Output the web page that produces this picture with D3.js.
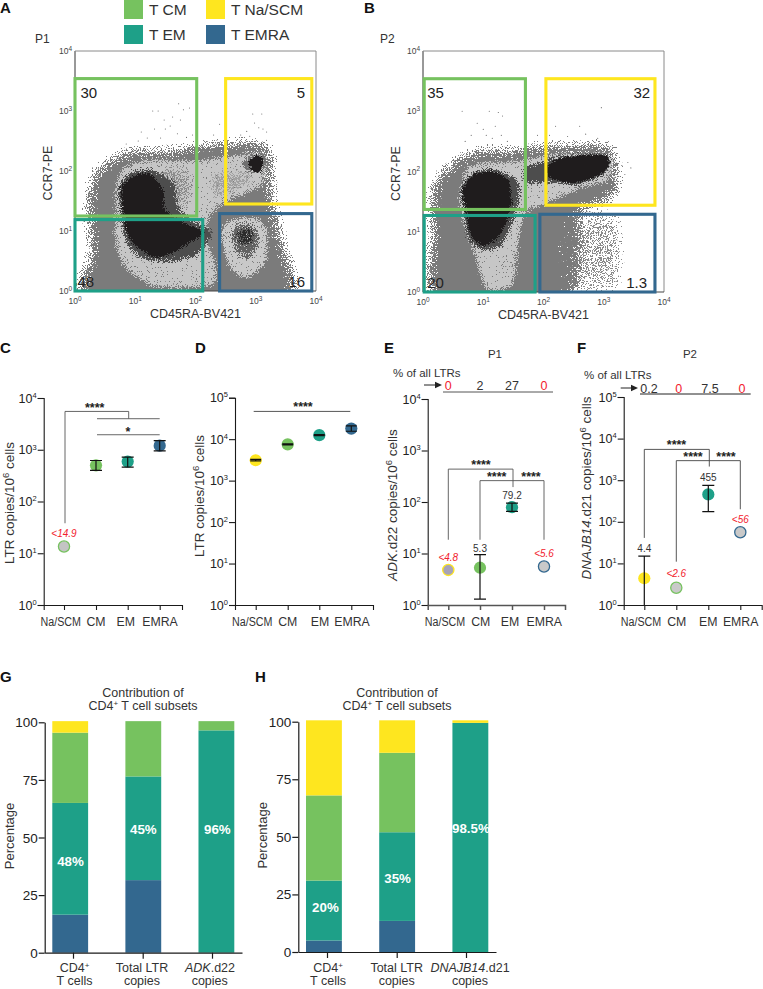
<!DOCTYPE html>
<html><head><meta charset="utf-8">
<script src="https://cdn.jsdelivr.net/npm/d3@7/dist/d3.min.js"></script>
<style>
html,body{margin:0;padding:0;background:#fff}
text{font-family:"Liberation Sans",Arial,sans-serif;fill:#2b2b2b}
</style></head><body>
<svg id="fig" width="763" height="989"></svg>
<script>
// ---------- colours ----------
const CM="#76c25f", EM="#1ea088", NA="#fee61f", RA="#33688f", RED="#f2212d";
// ---------- legend ----------
const legendNames=["T CM","T EM","T Na/SCM","T EMRA"];
const legendColors=[CM,EM,NA,RA];
// ---------- flow plots (log10 units) ----------
const gatesA=[[0,2.02,1.25,3.54,CM],[2.5,3.93,1.45,3.54,NA],[0,2.12,0,1.19,EM],[2.4,3.93,0,1.29,RA]];
const gatesB=[[0.02,1.7,1.37,3.54,CM],[2.04,3.85,1.44,3.54,NA],[0.02,1.86,0,1.27,EM],[1.94,3.85,0,1.29,RA]];
const gateNumsA=[["30",0.09,3.22,"start"],["5",3.82,3.22,"end"],["48",0.04,0.07,"start"],["16",3.82,0.07,"end"]];
const gateNumsB=[["35",0.07,3.22,"start"],["32",3.77,3.22,"end"],["20",0.07,0.07,"start"],["1.3",3.72,0.07,"end"]];
const outerA=[[0.2,-0.2],[0.26,0.63],[0.2,1.3],[0.24,1.8],[0.45,2.12],[0.96,2.36],[1.52,2.34],[2.18,2.46],[3.18,2.46],[3.28,2.18],[3.28,1.52],[3.45,0.85],[3.5,-0.2]];
const lightA=[[1.38,0.04],[1.05,0.2],[0.8,0.4],[0.65,0.8],[0.64,1.24],[0.66,1.74],[0.8,2.08],[1.18,2.2],[2.07,2.2],[3.07,2.33],[3.18,2.13],[3.12,1.74],[2.62,1.52],[2.29,1.3],[2.2,0.96],[2.35,0.41],[2.29,0.08]];
const midA=[[2.2,2.05],[3.0,2.05],[2.95,1.7],[2.5,1.5],[2.2,1.5]];
const mid2A=[[1.3,2.05],[1.95,2.1],[2.0,1.5],[1.8,1.25],[1.5,1.3]];
const haloA=[[0.72,1.74],[0.94,2.0],[1.3,2.03],[1.65,1.8],[1.72,1.41],[2.0,1.15],[2.3,0.98],[2.01,0.58],[1.52,0.48],[1.13,0.52],[0.85,0.78],[0.74,1.3]];
const coreA=[[0.77,1.74],[1.0,1.93],[1.24,1.96],[1.47,1.68],[1.49,1.35],[1.83,1.13],[2.15,0.98],[1.9,0.8],[1.66,0.66],[1.33,0.55],[0.97,0.79],[0.83,1.07],[0.8,1.35]];
const raLightA=[[2.46,0.63],[2.43,1.07],[2.62,1.21],[3.01,1.24],[3.2,1.02],[3.18,0.47],[2.84,0.19],[2.57,0.35]];
const raMidA=[[2.55,0.95],[2.7,1.15],[2.95,1.13],[3.1,0.95],[3.0,0.6],[2.82,0.5],[2.65,0.65]];
const raCoreA=[[2.66,0.98],[2.82,1.1],[3.0,1.0],[2.95,0.8],[2.8,0.68],[2.68,0.8]];
const naMidA=[[2.73,2.13],[2.95,2.28],[3.18,2.27],[3.15,2.02],[2.9,1.96]];
const naCoreA=[[2.88,2.14],[3.0,2.26],[3.12,2.2],[3.08,2.0],[2.98,1.98]];
const outerB=[[0.2,-0.2],[0.15,0.98],[0.12,1.53],[0.2,1.84],[0.48,2.16],[0.89,2.36],[1.55,2.36],[1.94,2.44],[3.1,2.44],[3.22,2.14],[3.2,1.58],[2.6,1.31],[2.38,0.64],[2.33,-0.2]];
const sparseB=[[2.25,1.35],[2.9,1.5],[3.35,1.45],[3.45,0.8],[3.35,-0.1],[2.2,-0.1]];
const sparseLeftB=[[2.1,1.35],[2.6,1.35],[2.7,0.7],[2.55,-0.1],[2.1,-0.1]];
const lightB=[[0.69,2.03],[0.83,2.14],[1.55,2.19],[2.1,2.3],[3.1,2.3],[3.16,2.08],[3.05,1.81],[2.66,1.72],[2.05,1.45],[1.72,1.31],[1.61,0.86],[1.5,0.1],[1.05,0.02],[0.83,0.64],[0.69,1.03],[0.58,1.53]];
const haloB=[[0.62,1.7],[0.82,2.0],[1.2,2.05],[1.6,1.85],[1.6,1.5],[1.5,1.15],[1.3,0.75],[1.0,0.68],[0.74,0.85],[0.67,1.3]];
const coreB=[[0.66,1.69],[0.83,1.95],[1.16,2.0],[1.42,1.86],[1.47,1.53],[1.4,1.2],[1.24,0.9],[1.0,0.76],[0.8,0.92],[0.72,1.31]];
const naHaloB=[[1.66,2.08],[1.9,2.15],[2.22,2.26],[3.02,2.3],[3.12,2.11],[2.95,1.9],[2.55,1.76],[2.1,1.8],[1.7,1.8]];
const naCoreB=[[2.03,2.05],[2.22,2.2],[2.66,2.27],[3.04,2.26],[3.09,2.11],[2.94,1.95],[2.55,1.81],[2.14,1.87]];
const dotsA=[[1.72,3.12],[1.29,3.0],[1.38,3.0],[1.8,3.02],[1.9,3.05],[2.02,3.1],[1.48,2.85],[1.62,2.9],[1.75,2.85],[1.32,2.7],[1.5,2.7],[1.1,2.65],[1.58,2.75],[1.95,2.6],[1.7,2.62],[1.2,2.55],[1.85,2.56],[2.95,2.95],[3.1,2.95],[2.98,2.8],[3.05,2.72],[3.12,2.7],[2.85,2.66],[3.18,2.65],[2.75,2.6],[2.4,2.78],[2.3,2.6],[2.5,2.55],[2.9,2.58],[1.05,2.5],[1.42,2.55],[0.85,2.45]];
const dotsB=[[0.65,3.0],[1.1,3.0],[1.25,2.98],[1.32,2.92],[0.9,2.8],[1.0,2.7],[1.2,2.75],[1.05,2.6],[0.8,2.6],[1.15,2.55],[1.3,2.6],[0.7,2.5],[1.4,2.5],[2.96,3.06],[2.2,2.75],[2.6,2.75],[2.1,2.6],[2.7,2.62],[1.9,2.6],[2.4,2.58],[2.9,2.55],[3.3,2.1],[3.4,2.15],[3.45,2.06],[3.35,1.95]];
// ---------- dot plots ----------
const subsets=["Na/SCM","CM","EM","EMRA"];
const pointColors=[NA,CM,EM,RA];
const valuesC=[13.5,500,590,1200], errLoC=[null,400,460,950], errHiC=[null,620,720,1500];
const valuesD=[3100,7500,12500,18000], errLoD=[3000,7300,12200,15500], errHiD=[3250,7700,12800,21000];
const valuesE=[4.8,5.3,79.2,5.6], errLoE=[null,1.3,66,null], errHiE=[null,9.5,95,null];
const valuesF=[4.4,2.6,455,56], errLoF=[1,null,175,null], errHiF=[15,null,750,null];
const pctE=["0","2","27","0"], pctF=["0.2","0","7.5","0"];
const labelsE=["<4.8","5.3","79.2","<5.6"], labelsF=["4.4","<2.6","455","<56"];
// ---------- stacked bars: EMRA, EM, CM, Na/SCM ----------
const stackKeys=[RA,EM,CM,NA];
const stackG=[[16.5,48.5,30.5,5],[31.5,45,24,0],[0,96.5,4,0]];
const stackH=[[5,26,37,32.6],[13.5,38.5,34.5,14.1],[0,99.5,0,1.1]];
const pctLabelsG=[["48%",39.5],["45%",53.5],["96%",53.5]];
const pctLabelsH=[["20%",19.5],["35%",32],["98.5%",53.5]];

const svg=d3.select("#fig");
const defs=svg.append("defs");
let filterCount=0;
// grain texture for a density layer: blurred polygon + pixel noise, thresholded
function dither(color,blur,bias){
  const id="d"+(++filterCount);
  const f=defs.append("filter").attr("id",id).attr("x","-25%").attr("y","-25%").attr("width","150%").attr("height","150%").attr("color-interpolation-filters","sRGB");
  f.append("feGaussianBlur").attr("in","SourceGraphic").attr("stdDeviation",blur).attr("result","b");
  f.append("feTurbulence").attr("type","fractalNoise").attr("baseFrequency",1.2).attr("numOctaves",1).attr("seed",filterCount*7).attr("result","n0");
  const ct=f.append("feComponentTransfer").attr("in","n0").attr("result","n");
  ct.append("feFuncA").attr("type","linear").attr("slope",2.6).attr("intercept",-0.8);
  f.append("feComposite").attr("in","n").attr("in2","b").attr("operator","arithmetic").attr("k1",0).attr("k2",1).attr("k3",1.5).attr("k4",bias).attr("result","s");
  f.append("feColorMatrix").attr("in","s").attr("type","matrix").attr("values","0 0 0 0 0  0 0 0 0 0  0 0 0 0 0  0 0 0 30 0").attr("result","t");
  f.append("feFlood").attr("flood-color",color).attr("result","c");
  f.append("feComposite").attr("in","c").attr("in2","t").attr("operator","in");
  return `url(#${id})`;
}

function txt(x,y,s,opt={}){
  const t=svg.append("text").attr("x",x).attr("y",y).text(s).attr("font-size",opt.size||13)
    .attr("text-anchor",opt.anchor||"start");
  if(opt.fill)t.style("fill",opt.fill);
  if(opt.weight)t.attr("font-weight",opt.weight);
  if(opt.italic)t.attr("font-style","italic");
  return t;
}
// panel letters
[["A",0,13],["B",364,13],["C",0,353],["D",195,353],["E",384,353],["F",577,353],["G",0,682],["H",255,682]]
  .forEach(d=>txt(d[1],d[2],d[0],{size:15,weight:"bold",fill:"#111"}));
// legend
legendNames.forEach((n,i)=>{
  const col=i<2?124:206, row=i%2;
  svg.append("rect").attr("x",col).attr("y",row?25:0).attr("width",19).attr("height",19).attr("fill",legendColors[i]);
  txt(col+25,row?39.5:15,n,{size:15.5,fill:"#333"});
});

function sup(sel,exp,size,supSize){
  sel.text("").append("tspan").text("10").attr("font-size",size);
  sel.append("tspan").text(exp).attr("font-size",supSize).attr("dy",-size*0.38);
}
function flow(cfg,idx){
  const x=d3.scaleLinear().domain([0,4]).range(cfg.xr), y=d3.scaleLinear().domain([0,4]).range(cfg.yr);
  const line=d3.line().x(d=>x(d[0])).y(d=>y(d[1])).curve(d3.curveCardinalClosed.tension(0.3));
  defs.append("clipPath").attr("id","cp"+idx).append("rect").attr("x",cfg.xr[0]).attr("y",cfg.yr[1]).attr("width",cfg.xr[1]-cfg.xr[0]).attr("height",cfg.yr[0]-cfg.yr[1]);
  const outer=svg.append("g").attr("clip-path",`url(#cp${idx})`);
  cfg.layers.forEach(l=>outer.append("path").attr("d",line(l[0])).attr("fill","#000").attr("filter",dither(l[1],l[2],l[3])));
  outer.selectAll("circle.dot").data(cfg.dots).join("circle").attr("cx",d=>x(d[0])).attr("cy",d=>y(d[1])).attr("r",0.55).attr("fill","#666");
  // frame
  svg.append("path").attr("d",`M${cfg.xr[0]},${cfg.yr[0]}V${cfg.yr[1]}`).attr("stroke","#333").attr("fill","none");
  svg.append("path").attr("d",`M${cfg.xr[0]},${cfg.yr[1]}H${cfg.xr[1]}V${cfg.yr[0]}`).attr("stroke","#8a8a8a").attr("fill","none");
  svg.append("path").attr("d",`M${cfg.xr[0]},${cfg.yr[0]}H${cfg.xr[1]}`).attr("stroke","#444").attr("fill","none");
  [0,1,2,3,4].forEach(e=>{
    sup(txt(x(e),cfg.yr[0]+13,"",{anchor:"middle",fill:"#444"}),e,8.5,6.5);
    sup(txt(cfg.xr[0]-3,y(e)+3,"",{anchor:"end",fill:"#444"}),e,8.5,6.5);
  });
  cfg.gates.forEach(d=>{
    svg.append("rect").attr("x",x(d[0])).attr("width",x(d[1])-x(d[0])).attr("y",y(d[3])).attr("height",y(d[2])-y(d[3]))
      .attr("fill","none").attr("stroke",d[4]).attr("stroke-width",3.1);
  });
  cfg.nums.forEach(d=>txt(x(d[1]),y(d[2]),d[0],{size:15,anchor:d[3],fill:"#222"}));
  txt((cfg.xr[0]+cfg.xr[1])/2,cfg.yr[0]+27,"CD45RA-BV421",{size:12.5,anchor:"middle",fill:"#333"});
  txt(0,0,"CCR7-PE",{size:12.5,anchor:"middle",fill:"#333"}).attr("transform",`translate(${cfg.xr[0]-23},${(y(2)+2)}) rotate(-90)`);
  txt(cfg.pl[0],cfg.pl[1],cfg.pl[2],{size:12,fill:"#333"});
}
flow({xr:[75,316],yr:[291,51],gates:gatesA,nums:gateNumsA,dots:dotsA,pl:[35,43,"P1"],
  layers:[[outerA,"#7b7b7b",8,-1.35],[lightA,"#c6c6c6",3.5,-1.5],[midA,"#a0a0a0",7,-1.9],[mid2A,"#8c8c8c",7,-1.9],[haloA,"#4d4d4d",3,-1.4],[coreA,"#1f1c1d",2,-1.25],
  [raLightA,"#c9c9c9",3.5,-1.5],[raMidA,"#626262",5,-1.55],[raCoreA,"#2c2c2c",5,-1.65],[naMidA,"#6f6f6f",3,-1.45],[naCoreA,"#1f1c1d",1.6,-1.25]]},0);
flow({xr:[423,664],yr:[292,51],gates:gatesB,nums:gateNumsB,dots:dotsB,pl:[380,43,"P2"],
  layers:[[sparseB,"#8a8a8a",12,-2.05],[sparseLeftB,"#7b7b7b",9,-1.55],[outerB,"#7b7b7b",8,-1.35],[lightB,"#c6c6c6",3.5,-1.5],[haloB,"#4d4d4d",3,-1.4],[coreB,"#1f1c1d",2,-1.25],[naHaloB,"#4d4d4d",3,-1.4],[naCoreB,"#1f1c1d",1.6,-1.25]]},1);

// dot plots
function dotPlot(c){
  const y=d3.scaleLog().domain([1,c.max]).range([605,c.top]);
  const xs=d3.scaleOrdinal().domain(d3.range(4)).range(c.ticks);
  const ax=c.ax, end=c.end;
  const gy=svg.append("g").attr("transform",`translate(${ax},0)`).call(d3.axisLeft(y).tickValues(d3.range(0,Math.log10(c.max)+1).map(e=>10**e)).tickSize(6).tickFormat(""));
  gy.selectAll("path,line").attr("stroke","#1a1a1a").attr("stroke-width",1.1);
  d3.range(0,Math.log10(c.max)+1).forEach(e=>sup(txt(ax-7,y(10**e)+4.5,"",{anchor:"end",fill:"#222"}),e,12.5,7.5));
  const gx=svg.append("g").attr("transform","translate(0,605)").call(d3.axisBottom(d3.scaleLinear().domain([ax,end]).range([ax,end])).tickValues(c.ticks).tickSize(5).tickFormat(""));
  gx.selectAll("path,line").attr("stroke",c.xAxisColor||"#1a1a1a").attr("stroke-width",c.xAxisColor?1.5:1.1);
  subsets.forEach((s,i)=>{
    const t=txt(c.labelX[i],626,s,{size:12.3,anchor:"middle",fill:"#333"});
    if(i===0) t.attr("textLength",40.5).attr("lengthAdjust","spacingAndGlyphs");
  });
  const lab=txt(0,0,"",{size:13.5,anchor:"middle",fill:"#333"}).attr("transform",`translate(${c.labX},${c.labY}) rotate(-90)`);
  if(c.gene) lab.append("tspan").text(c.gene).attr("font-style","italic");
  lab.append("tspan").text(c.geneRest||"LTR copies/10");
  lab.append("tspan").text("6").attr("font-size",9.5).attr("dy",-5);
  lab.append("tspan").text(" cells").attr("dy",5);
  c.v.forEach((v,i)=>{
    const cx=xs(i);
    const st=c.style?c.style[i]:null;
    svg.append("circle").attr("cx",cx).attr("cy",y(v)).attr("r",st?5.6:6.1)
      .attr("fill",st?st[0]:pointColors[i]).attr("stroke",st?st[1]:"none").attr("stroke-width",st?1.3:0);
    if(c.lo[i]!=null){
      const top=y(c.hi[i]), bot=Math.min(y(c.lo[i]),605);
      const w=c.capW||6;
      svg.append("path").attr("d",`M${cx-w},${top}H${cx+w}M${cx},${top}V${bot}`+(c.lo[i]>1?`M${cx-w},${bot}H${cx+w}`:"")).attr("stroke","#111").attr("stroke-width",1.2).attr("fill","none");
    }
    if(c.labels&&c.labels[i]) {
      const isRed=c.labels[i].startsWith("<");
      txt(cx,c.labelY[i],c.labels[i],{size:10,anchor:"middle",italic:isRed,fill:isRed?RED:"#333"});
    }
  });
  (c.br||[]).forEach(b=>{
    svg.append("path").attr("d",b.map((p,j)=>(j?"L":"M")+(xs(p[0])+(p[2]||0))+","+y(p[1])).join("")).attr("fill","none").attr("stroke",c.brColor||"#444").attr("stroke-width",0.9);
  });
  (c.stars||[]).forEach(s=>txt(s[0],s[1],s[2],{size:12.5,anchor:"middle",weight:"bold",fill:"#222"}));
}
const ltrBracketsC=[[[0,38,1],[0,5500,1],[2,5500,1],[2,3980,1]],[[1,3980,1],[3,3980]],[[1,1950,1],[3,1950]]];
const ltrBracketsD=[[[0,46700,-2],[3,46700,-1]]];
const ltrBracketsE=[[[0,18.5],[0,435],[2,435,1],[2,195,1]],[[1,18.5],[1,260],[3,260],[3,18.5]]];
const ltrBracketsF=[[[0,41],[0,5500],[2,5500,1],[2,2130,1]],[[1,11],[1,2950],[3,2950],[3,200]]];
dotPlot({ax:43.7,end:182,top:398,max:1e4,ticks:[64,96,127.7,159.7],labelX:[60.8,96,125.7,160],v:valuesC,lo:errLoC,hi:errHiC,labX:14,labY:503,
  style:[["#c4c4c4",CM],null,null,null],labels:["<14.9","","",""],labelY:[537,0,0,0],br:ltrBracketsC,brColor:"#555",stars:[[94.7,412,"****"],[128,435.5,"*"]]});
dotPlot({ax:235,end:373,top:397.7,max:1e5,ticks:[255.7,287.7,319.3,351.3],labelX:[252.3,287.7,320,352],v:valuesD,lo:errLoD,hi:errHiD,labX:204,labY:496,br:ltrBracketsD,stars:[[303,411,"****"]],capW:5.5});
dotPlot({ax:427.7,end:565,top:399,max:1e4,ticks:[448.3,480,512,544],labelX:[445,480.7,510,544.3],v:valuesE,lo:errLoE,hi:errHiE,labX:396.5,labY:505,gene:"ADK",geneRest:".d22 copies/10",xAxisColor:"#555",
  style:[["#a7a3b8",NA],null,null,["#c9c9c9",RA]],labels:labelsE,labelY:[561,552,499,557],br:ltrBracketsE,brColor:"#555",stars:[[481,469,"****"],[496.7,481,"****"],[531,481,"****"]]});
dotPlot({ax:623.7,end:761.7,top:397,max:1e5,ticks:[644.3,676.3,708.3,740.3],labelX:[641,676.7,708.3,740.7],v:valuesF,lo:errLoF,hi:errHiF,labX:590.5,labY:488,gene:"DNAJB14",geneRest:".d21 copies/10",
  style:[null,["#c9c9c9",CM],null,["#c9c9c9",RA]],labels:labelsF,labelY:[552,577,481,523],br:ltrBracketsF,brColor:"#444",stars:[[676.5,449,"****"],[693,461,"****"],[726,461,"****"]]});

// % tables
txt(393,377,"% of all LTRs",{size:11.5,fill:"#333"});
txt(495,358,"P1",{size:11.5,anchor:"middle",fill:"#333"});
txt(584,379,"% of all LTRs",{size:11.5,fill:"#333"});
txt(690,358,"P2",{size:11.5,anchor:"middle",fill:"#333"});
function arrow(x1,x2,y){
  svg.append("path").attr("d",`M${x1},${y}H${x2-4}`).attr("stroke","#222").attr("stroke-width",1);
  svg.append("path").attr("d",`M${x2},${y}l-7,-3.2v6.4z`).attr("fill","#222");
}
arrow(424,442,385); arrow(620.7,638,388);
[[pctE,[448.3,480,512,544],390],[pctF,[649,678.7,710,742],393]].forEach(([p,xs,yy])=>
  p.forEach((v,i)=>txt(xs[i],yy,v,{size:12.5,anchor:"middle",fill:v==="0"?RED:"#333"})));
svg.append("path").attr("d","M443,392H553").attr("stroke","#555");
svg.append("path").attr("d","M640,394H750.7").attr("stroke","#222");

// stacked bars
function stacked(c){
  const y=d3.scaleLinear().domain([0,100]).range([c.y0,c.y100]);
  const x=d3.scaleBand().domain(d3.range(3)).range([c.bx0,c.bx1]).paddingInner(c.pad);
  c.data.forEach((row,i)=>{
    let acc=0;
    row.forEach((v,k)=>{
      if(v>0) svg.append("rect").attr("x",x(i)).attr("width",x.bandwidth()).attr("y",y(acc+v)).attr("height",y(acc)-y(acc+v)).attr("fill",stackKeys[k]);
      acc+=v;
    });
    txt(x(i)+x.bandwidth()/2+c.off[i],y(c.pct[i][1])+4.5,c.pct[i][0],{size:13.3,weight:"bold",anchor:"middle",fill:"#fff"});
  });
  const g=svg.append("g").attr("transform",`translate(${c.ax},0)`).call(d3.axisLeft(y).tickValues([0,25,50,75,100]).tickSize(6).tickSizeOuter(0).tickFormat(""));
  g.selectAll("path,line").attr("stroke","#1a1a1a").attr("stroke-width",1.2);
  [0,25,50,75,100].forEach(v=>txt(c.ax-7,y(v)+5,v,{size:13.5,anchor:"end",fill:"#222"}));
  const gx=svg.append("g").attr("transform",`translate(0,${c.y0})`).call(d3.axisBottom(d3.scaleLinear().domain([c.ax,c.end]).range([c.ax,c.end])).tickValues(c.ticks).tickSize(6).tickSizeOuter(0).tickFormat(""));
  gx.selectAll("path,line").attr("stroke","#1a1a1a").attr("stroke-width",1.2);
  txt(0,0,"Percentage",{size:13,anchor:"middle",fill:"#333"}).attr("transform",`translate(${c.ax-31},${y(50)-1.5}) rotate(-90)`);
  txt(c.tx,696.5,"Contribution of",{size:12.5,anchor:"middle",fill:"#333"});
  const t2=txt(c.tx,709.5,"CD4",{size:12.5,anchor:"middle",fill:"#333"});
  t2.append("tspan").text("+").attr("font-size",8).attr("dy",-4);
  t2.append("tspan").text(" T cell subsets").attr("dy",4);
  const t=txt(c.lx[0],972,"CD4",{size:12.5,anchor:"middle",fill:"#333"});
  t.append("tspan").text("+").attr("font-size",8).attr("dy",-4);
  txt(c.lx[0],985,"T cells",{size:12.5,anchor:"middle",fill:"#333"});
  txt(c.lx[1],972,"Total LTR",{size:12.5,anchor:"middle",fill:"#333"});
  txt(c.lx[1],985,"copies",{size:12.5,anchor:"middle",fill:"#333"});
  const t3=txt(c.lx[2],972,"",{size:12.5,anchor:"middle",fill:"#333"});
  t3.append("tspan").text(c.gene).attr("font-style","italic");
  t3.append("tspan").text(".d"+c.geneD);
  txt(c.lx[3],985,"copies",{size:12.5,anchor:"middle",fill:"#333"});
}
stacked({ax:44.7,end:242,y0:952.7,y100:722.3,bx0:52.3,bx1:234.3,pad:0.51,data:stackG,pct:pctLabelsG,off:[0.3,0,1],ticks:[73,142.7,212],tx:143,lx:[74.5,142,210,209.7],gene:"ADK",geneD:"22"});
stacked({ax:298.3,end:496,y0:952,y100:721.7,bx0:306,bx1:488.3,pad:0.51,data:stackH,pct:pctLabelsH,off:[1.5,0.5,0.5],ticks:[327,396.7,466],tx:397,lx:[328,396.7,470,470],gene:"DNAJB14",geneD:"21"});
</script>
</body></html>
